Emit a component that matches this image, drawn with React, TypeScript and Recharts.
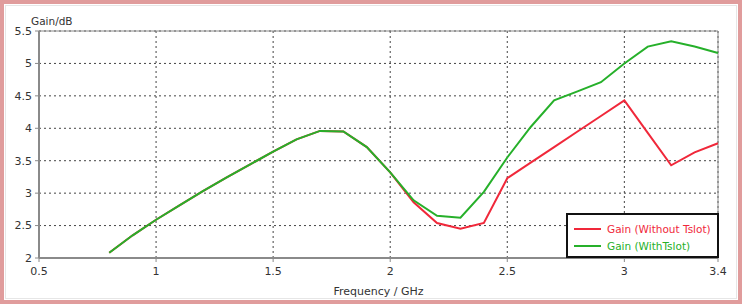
import React from 'react';
import { LineChart, Line, XAxis, YAxis, CartesianGrid, ReferenceLine } from 'recharts';

// frequency points (GHz)
const freqs = [0.8, 0.9, 1.0, 1.1, 1.2, 1.3, 1.4, 1.5, 1.6, 1.7, 1.8, 1.9, 2.0, 2.1, 2.2, 2.3, 2.4, 2.5, 2.6, 2.7, 2.8, 2.9, 3.0, 3.1, 3.2, 3.3, 3.4];
const gainWithout = [2.08, 2.35, 2.59, 2.81, 3.03, 3.24, 3.44, 3.64, 3.83, 3.96, 3.95, 3.71, 3.32, 2.86, 2.54, 2.45, 2.54, 3.23, 3.47, 3.71, 3.95, 4.19, 4.43, 3.93, 3.43, 3.63, 3.77];
const gainWith = [2.08, 2.35, 2.59, 2.81, 3.03, 3.24, 3.44, 3.64, 3.83, 3.96, 3.95, 3.71, 3.32, 2.89, 2.65, 2.62, 3.02, 3.55, 4.02, 4.43, 4.57, 4.71, 5.0, 5.26, 5.34, 5.26, 5.16];
const xTicks = [0.5, 1, 1.5, 2, 2.5, 3, 3.4];
const yTicks = [2, 2.5, 3, 3.5, 4, 4.5, 5, 5.5];
const seriesNames = ['Gain (Without Tslot)', 'Gain (WithTslot)'];

const data = freqs.map((f, i) => ({ f, without: gainWithout[i], with: gainWith[i] }));

const RED = '#f0283a';
const GREEN = '#26b02a';
const FONT = '"DejaVu Sans", Verdana, sans-serif';

// legend drawn as an overlay so it does not shrink the plot area
const LegendBox = () => (
  <div
    style={{
      position: 'absolute',
      left: 566,
      top: 213,
      width: 153,
      height: 45,
      border: '2px solid #111',
      background: '#fff',
      fontFamily: FONT,
      fontSize: 10.5,
      padding: '5px 0 0 6px',
      boxSizing: 'border-box',
      zIndex: 1,
    }}
  >
    {[
      { name: seriesNames[0], color: RED },
      { name: seriesNames[1], color: GREEN },
    ].map((item) => (
      <div key={item.name} style={{ display: 'flex', alignItems: 'center', height: 17, color: item.color, whiteSpace: 'nowrap' }}>
        <div style={{ width: 27, height: 2, background: item.color, marginRight: 6 }} />
        <span>{item.name}</span>
      </div>
    ))}
  </div>
);

export default function App() {
  return (
    <div
      style={{
        position: 'fixed',
        left: 0,
        top: 0,
        width: 742,
        height: 304,
        background: '#fff',
      }}
    >
      {/* pink frame + faint inner line */}
      <div
        style={{
          position: 'absolute',
          left: 0,
          top: 0,
          width: 742,
          height: 304,
          border: '4px solid #e09c9c',
          outline: '1px solid #e6e6e6',
          outlineOffset: -6,
          boxSizing: 'border-box',
          pointerEvents: 'none',
          zIndex: 2,
        }}
      />
      <LineChart width={742} height={304} data={data} margin={{ top: 31, right: 24, left: 4, bottom: 12 }}>
        <CartesianGrid stroke="#444" strokeDasharray="2 3" strokeWidth={1} />
        <XAxis
          dataKey="f"
          type="number"
          domain={[0.5, 3.4]}
          ticks={xTicks}
          height={34}
          tickSize={4}
          tickMargin={5}
          tick={{ fill: '#333', fontSize: 11, fontFamily: FONT }}
          axisLine={{ stroke: '#8a8a8a', strokeWidth: 2 }}
          tickLine={{ stroke: '#8a8a8a' }}
          label={{ value: 'Frequency / GHz', position: 'insideBottom', offset: -3, fill: '#333', fontSize: 11, fontFamily: FONT }}
        />
        <YAxis
          type="number"
          domain={[2, 5.5]}
          ticks={yTicks}
          width={35}
          tickSize={4}
          tickMargin={3}
          tick={{ fill: '#333', fontSize: 11, fontFamily: FONT }}
          axisLine={{ stroke: '#8a8a8a', strokeWidth: 2 }}
          tickLine={{ stroke: '#8a8a8a' }}
          label={{
            content: () => (
              <text x={31} y={25} fill="#333" fontSize={10.5} fontFamily={FONT}>
                Gain/dB
              </text>
            ),
          }}
        />
        <ReferenceLine y={5.5} stroke="#8a8a8a" strokeWidth={1} />
        <ReferenceLine x={3.4} stroke="#8a8a8a" strokeWidth={1} />
        <Line dataKey="without" stroke={RED} strokeWidth={2} dot={false} isAnimationActive={false} />
        <Line dataKey="with" stroke={GREEN} strokeWidth={2} dot={false} isAnimationActive={false} />
      </LineChart>
      <LegendBox />
    </div>
  );
}
